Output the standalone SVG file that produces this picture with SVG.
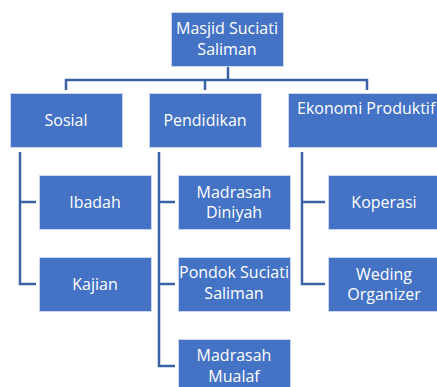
<svg xmlns="http://www.w3.org/2000/svg" width="437" height="387" viewBox="0 0 437 387">
<style>
.box{fill:#4472C4;stroke:#C9D6EE;stroke-width:1}
.t{font-family:"Open Sans","Noto Sans","Liberation Sans",sans-serif;font-size:16px;fill:#FFFFFF;text-anchor:middle}
.c{fill:none;stroke:#3A62A7;stroke-width:2.5}
</style>
<rect width="437" height="387" fill="#FFFFFF"/>
<g id="connectors">
<path class="c" d="M228 66V80M66 90V80H367V90M205 80V90"/>
<path class="c" d="M20 152V284H36M20 202H36"/>
<path class="c" d="M159 152V366H175M159 202H175M159 284H175"/>
<path class="c" d="M302 152V284H325M302 202H325"/>
</g>
<g id="root"><rect class="box" x="171.5" y="12.5" width="112" height="54"/><text class="t" x="227" y="34">Masjid Suciati</text><text class="t" x="227" y="55">Saliman</text></g>
<g id="sosial"><rect class="box" x="10.5" y="93.5" width="112" height="54"/><text class="t" x="66" y="126">Sosial</text></g>
<g id="pendidikan"><rect class="box" x="149.5" y="93.5" width="112" height="54"/><text class="t" x="205" y="126">Pendidikan</text></g>
<g id="ekonomi"><rect class="box" x="288.5" y="93.5" width="160" height="54"/><text class="t" x="297" y="114" style="text-anchor:start">Ekonomi Produktif</text></g>
<g id="ibadah"><rect class="box" x="39.5" y="175.5" width="112" height="54"/><text class="t" x="95" y="208">Ibadah</text></g>
<g id="kajian"><rect class="box" x="39.5" y="257.5" width="112" height="54"/><text class="t" x="95" y="290">Kajian</text></g>
<g id="diniyah"><rect class="box" x="178.5" y="175.5" width="112" height="54"/><text class="t" x="234" y="198">Madrasah</text><text class="t" x="234" y="218">Diniyah</text></g>
<g id="pondok"><rect class="box" x="178.5" y="257.5" width="112" height="54"/><text class="t" x="234" y="278">Pondok Suciati</text><text class="t" x="234" y="299">Saliman</text></g>
<g id="mualaf"><rect class="box" x="178.5" y="339.5" width="112" height="54"/><text class="t" x="234" y="361">Madrasah</text><text class="t" x="234" y="382">Mualaf</text></g>
<g id="koperasi"><rect class="box" x="328.5" y="175.5" width="112" height="54"/><text class="t" x="384" y="208">Koperasi</text></g>
<g id="weding"><rect class="box" x="328.5" y="257.5" width="112" height="54"/><text class="t" x="384" y="280">Weding</text><text class="t" x="384" y="300">Organizer</text></g>
</svg>
